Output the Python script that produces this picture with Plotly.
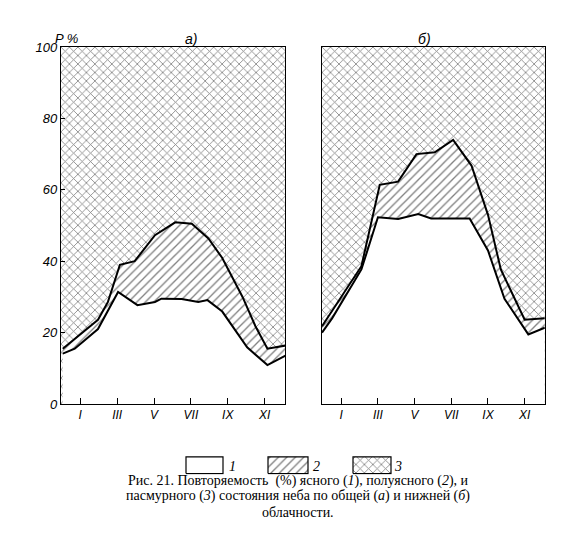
import plotly.graph_objects as go

months = ["I", "III", "V", "VII", "IX", "XI"]
month_pos = [1, 3, 5, 7, 9, 11]
y_ticks = [0, 20, 40, 60, 80, 100]

# panel a
a1_x = [0.05, 0.7, 1.96, 3.05, 4.1, 5.05, 5.4, 6.5, 7.4, 7.9, 8.7, 10.05, 11.15, 12.15]
a1_y = [14.1, 15.5, 21, 31.4, 27.7, 28.6, 29.5, 29.4, 28.6, 29.1, 25.9, 15.9, 10.9, 13.6]
a2_x = [0.05, 1.96, 2.5, 3.15, 3.95, 5.05, 6.15, 7.05, 7.95, 8.7, 9.8, 10.5, 11.15, 12.15]
a2_y = [15.5, 23.6, 28.6, 39, 40, 47.3, 50.9, 50.5, 46.4, 40.9, 30, 21.8, 15.5, 16.4]
# panel b
b1_x = [-0.05, 0.5, 2.1, 3.0, 4.1, 5.2, 5.9, 8.0, 9.0, 9.9, 11.2, 12.1]
b1_y = [20, 24, 37.7, 52.3, 51.8, 53.2, 52, 52, 43, 29.5, 19.5, 21.4]
b2_x = [-0.05, 2.1, 3.1, 4.1, 5.1, 6.1, 7.1, 8.1, 9.0, 9.7, 11.0, 12.1]
b2_y = [21.8, 38.6, 61.4, 62.3, 70, 70.5, 74, 66.8, 53, 37.7, 23.6, 24]

XR = [-0.05, 12.1]
cross = dict(shape="x", fgcolor="black", bgcolor="white", size=6, solidity=0.25)
hatch = dict(shape="/", fgcolor="black", bgcolor="white", size=6, solidity=0.22)

fig = go.Figure()
for xa, ya, x1, y1, x2, y2 in [("x", "y", a1_x, a1_y, a2_x, a2_y),
                                ("x2", "y2", b1_x, b1_y, b2_x, b2_y)]:
    fig.add_trace(go.Scatter(x=XR, y=[100, 100], xaxis=xa, yaxis=ya, mode="lines",
                             line=dict(width=0), fill="tozeroy", fillpattern=cross,
                             fillcolor="white", showlegend=False, hoverinfo="skip"))
    fig.add_trace(go.Scatter(x=x2, y=y2, xaxis=xa, yaxis=ya, mode="lines",
                             line=dict(color="black", width=2), fill="tozeroy",
                             fillpattern=hatch, fillcolor="white", showlegend=False))
    fig.add_trace(go.Scatter(x=x1, y=y1, xaxis=xa, yaxis=ya, mode="lines",
                             line=dict(color="black", width=2), fill="tozeroy",
                             fillcolor="white", showlegend=False))

leg = [(178, 215, None, "1", 224), (260, 300, hatch, "2", 308), (345, 383, cross, "3", 390)]
for x0, x1b, pat, lab, lx in leg:
    kw = dict(fillpattern=pat) if pat else {}
    fig.add_trace(go.Scatter(x=[x0, x1b, x1b, x0, x0], y=[0, 0, 1, 1, 0], xaxis="x3", yaxis="y3",
                             mode="lines", line=dict(color="black", width=1.2), fill="toself",
                             fillcolor="white", showlegend=False, hoverinfo="skip", **kw))
    fig.add_annotation(x=lx, y=0.45, xref="x3", yref="y3", text=f"<i>{lab}</i>",
                       showarrow=False, font=dict(size=14, family="Liberation Serif", color="black"))

ax = dict(range=XR, tickvals=month_pos, ticktext=months, ticks="inside", ticklen=6,
          tickcolor="black", showline=True, linecolor="black", mirror=True, showgrid=False,
          zeroline=False, tickfont=dict(family="Liberation Sans", size=12, style="italic", color="black"))
ay = dict(range=[0, 100], showline=True, linecolor="black", mirror=True, showgrid=False,
          zeroline=False)
fig.update_layout(
    width=588, height=540, margin=dict(l=0, r=0, t=0, b=0),
    plot_bgcolor="white", paper_bgcolor="white",
    xaxis=dict(domain=[0.09, 0.471], anchor="y", **ax),
    yaxis=dict(domain=[0.259, 0.939], anchor="x", tickvals=y_ticks, ticks="inside", ticklen=4,
               tickcolor="black",
               tickfont=dict(family="Liberation Sans", size=13, style="italic", color="black"), **ay),
    xaxis2=dict(domain=[0.534, 0.913], anchor="y2", **ax),
    yaxis2=dict(domain=[0.259, 0.939], anchor="x2", showticklabels=False, **ay),
    xaxis3=dict(domain=[0, 1], anchor="y3", range=[0, 588], visible=False),
    yaxis3=dict(domain=[0.125, 0.16], anchor="x3", range=[-0.05, 1.05], visible=False),
)
ann_font = dict(family="Liberation Sans", size=14, color="black")
fig.add_annotation(x=175/588, y=1-14/540, xref="paper", yref="paper", text="<i>а)</i>",
                   showarrow=False, font=ann_font)
fig.add_annotation(x=425/588, y=1-14/540, xref="paper", yref="paper", text="<i>б)</i>",
                   showarrow=False, font=ann_font)
fig.add_annotation(x=45/588, y=1-14/540, xref="paper", yref="paper", text="<i>P %</i>",
                   showarrow=False, font=dict(family="Liberation Sans", size=13, color="black"))
caption = ["Рис. 21. Повторяемость  (%) ясного (<i>1</i>), полуясного (<i>2</i>), и",
           "пасмурного (<i>3</i>) состояния неба по общей (<i>а</i>) и нижней (<i>б</i>)",
           "облачности."]
for i, line in enumerate(caption):
    fig.add_annotation(x=290/588, y=1-(490+15.5*i)/540, xref="paper", yref="paper", text=line,
                       showarrow=False, font=dict(family="Liberation Serif", size=14, color="black"))
fig.write_html("out.html")
